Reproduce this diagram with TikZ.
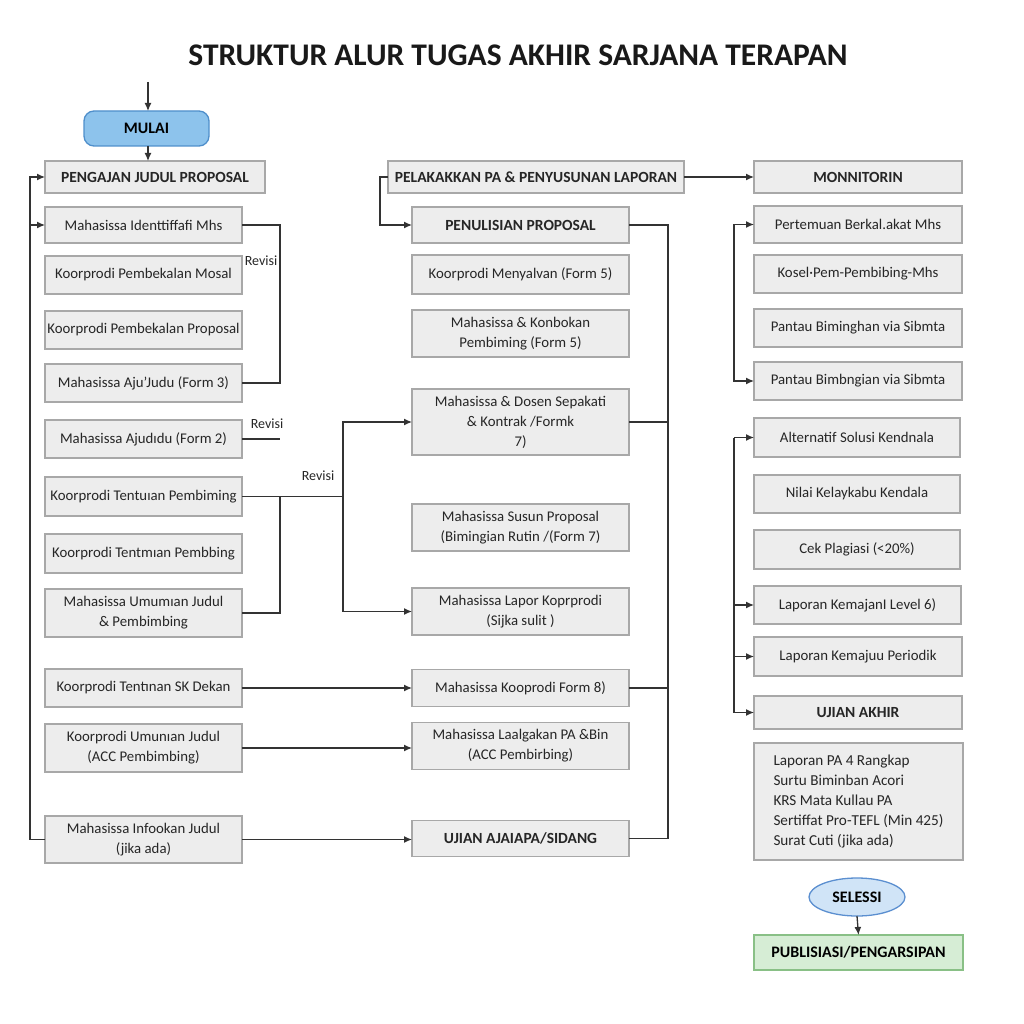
\documentclass[tikz,border=0pt]{standalone}
\usepackage{fontspec}
\setmainfont{Carlito}
\usetikzlibrary{arrows.meta,calc,shapes.geometric}
\definecolor{boxfill}{HTML}{EDEDED}
\definecolor{boxline}{HTML}{A8A8A8}
\definecolor{wire}{HTML}{333333}
\definecolor{startfill}{HTML}{8DC3EC}
\definecolor{startline}{HTML}{4F8FCB}
\definecolor{endfill}{HTML}{D0E4F7}
\definecolor{endline}{HTML}{5B8FD0}
\definecolor{pubfill}{HTML}{D6EDD5}
\definecolor{publine}{HTML}{89C086}
\tikzset{
  box/.style={draw=boxline, fill=boxfill, line width=1.2pt, inner xsep=0pt, inner ysep=2pt, outer sep=0pt,
    align=center, font=\fontsize{14.8}{20}\selectfont, text=black!85},
  hbox/.style={box, font=\fontsize{15.5}{20}\selectfont\bfseries},
  wireline/.style={draw=wire, line width=1.3pt},
  arr/.style={wireline, -{Latex[length=8pt,width=7pt]}},
  rev/.style={font=\fontsize{14}{16}\selectfont, text=black!85, inner sep=1pt},
}
\begin{document}
\begin{tikzpicture}[x=1pt,y=-1pt]
\useasboundingbox[fill=white] (0,0) rectangle (1024,1024);
\node[font=\fontsize{31.5}{34}\selectfont\bfseries, text=black!90] (title) at (518,55) {STRUKTUR ALUR TUGAS AKHIR SARJANA TERAPAN};

% start
\coordinate (top) at (148,82);
\node[draw=startline, fill=startfill, line width=1.3pt, rounded corners=10pt, minimum width=125pt, minimum height=35pt, font=\fontsize{16}{18}\selectfont\bfseries, outer sep=0pt] (mulai) at (146.5,128.5) {MULAI};

% left column
\node[hbox, minimum width=220pt, minimum height=32pt] (p1) at (155,177) {PENGAJAN JUDUL PROPOSAL};
\node[box, minimum width=197pt, minimum height=36pt] (l1) at (143.5,225) {Mahasissa Identtiffafi Mhs};
\node[box, minimum width=197pt, minimum height=38pt] (l2) at (143.5,275) {Koorprodi Pembekalan Mosal};
\node[box, minimum width=197pt, minimum height=38pt] (l3) at (143.5,330) {Koorprodi Pembekalan Proposal};
\node[box, minimum width=197pt, minimum height=38pt] (l4) at (143.5,383) {Mahasissa Aju’Judu (Form 3)};
\node[box, minimum width=197pt, minimum height=38pt] (l5) at (143.5,439) {Mahasissa Ajudıdu (Form 2)};
\node[box, minimum width=197pt, minimum height=39pt] (l6) at (143.5,496.5) {Koorprodi Tentuıan Pembiming};
\node[box, minimum width=197pt, minimum height=39pt] (l7) at (143.5,553.5) {Koorprodi Tentmıan Pembbing};
\node[box, minimum width=197pt, minimum height=48pt] (l8) at (143.5,613) {Mahasissa Umumıan Judul\\\& Pembimbing};
\node[box, minimum width=197pt, minimum height=38pt] (l9) at (143.5,688) {Koorprodi Tentınan SK Dekan};
\node[box, minimum width=197pt, minimum height=48pt] (l10) at (143.5,748) {Koorprodi Umunıan Judul\\(ACC Pembimbing)};
\node[box, minimum width=197pt, minimum height=47pt] (l11) at (143.5,839.5) {Mahasissa Infookan Judul\\(jika ada)};

% middle column
\node[hbox, minimum width=296pt, minimum height=32pt] (mh) at (536,177) {PELAKAKKAN PA \& PENYUSUNAN LAPORAN};
\node[hbox, minimum width=217pt, minimum height=36pt] (m1) at (520.5,225) {PENULISIAN PROPOSAL};
\node[box, minimum width=217pt, minimum height=39pt] (m2) at (520.5,274.5) {Koorprodi Menyalvan (Form 5)};
\node[box, minimum width=217pt, minimum height=47pt] (m3) at (520.5,333.5) {Mahasissa \& Konbokan\\Pembiming (Form 5)};
\node[box, minimum width=217pt, minimum height=66pt] (m4) at (520.5,422) {Mahasissa \& Dosen Sepakati\\\& Kontrak /Formk\\7)};
\node[box, minimum width=217pt, minimum height=47pt] (m5) at (520.5,527.5) {Mahasissa Susun Proposal\\(Bimingian Rutin /(Form 7)};
\node[box, minimum width=217pt, minimum height=47pt] (m6) at (520.5,611.5) {Mahasissa Lapor Koprprodi\\(Sijka sulit )};
\node[box, minimum width=217pt, minimum height=37pt] (m7) at (520.5,688) {Mahasissa Kooprodi Form 8)};
\node[box, minimum width=217pt, minimum height=47pt] (m8) at (520.5,746) {Mahasissa Laalgakan PA \&Bin\\(ACC Pembirbing)};
\node[hbox, minimum width=217pt, minimum height=36pt] (m9) at (520.5,838.5) {UJIAN AJAIAPA/SIDANG};

% right column
\node[hbox, minimum width=208pt, minimum height=32pt] (rh) at (858,177) {MONNITORIN};
\node[box, minimum width=208pt, minimum height=37pt] (r1) at (858,224.5) {Pertemuan Berkal.akat Mhs};
\node[box, minimum width=208pt, minimum height=38pt] (r2) at (858,274) {Kosel·Pem-Pembibing-Mhs};
\node[box, minimum width=208pt, minimum height=38pt] (r3) at (858,328) {Pantau Biminghan via Sibmta};
\node[box, minimum width=208pt, minimum height=38pt] (r4) at (858,381) {Pantau Bimbngian via Sibmta};
\node[box, minimum width=206pt, minimum height=39pt] (r5) at (857,437.5) {Alternatif Solusi Kendnala};
\node[box, minimum width=206pt, minimum height=38pt] (r6) at (857,494) {Nilai Kelaykabu Kendala};
\node[box, minimum width=206pt, minimum height=39pt] (r7) at (857,549.5) {Cek Plagiasi (<20\%)};
\node[box, minimum width=207pt, minimum height=38pt] (r8) at (857.5,605) {Laporan KemajanI Level 6)};
\node[box, minimum width=208pt, minimum height=39pt] (r9) at (858,656.5) {Laporan Kemajuu Periodik};
\node[hbox, minimum width=208pt, minimum height=33pt] (r10) at (858,712.5) {UJIAN AKHIR};
\node[box, align=left, font=\fontsize{15.2}{20}\selectfont, minimum width=209pt, minimum height=117pt] (r11) at (858.5,801.5) {Laporan PA 4 Rangkap\\Surtu Biminban Acori\\KRS Mata Kullau PA\\Sertiffat Pro-TEFL (Min 425)\\Surat Cuti (jika ada)};
\node[ellipse, draw=endline, fill=endfill, line width=1.3pt, minimum width=96pt, minimum height=38pt, inner sep=0pt, outer sep=0pt, font=\fontsize{16}{18}\selectfont\bfseries] (sel) at (857,897) {SELESSI};
\node[draw=publine, fill=pubfill, line width=1.3pt, minimum width=209pt, minimum height=35pt, outer sep=0pt, font=\fontsize{16}{18}\selectfont\bfseries] (pub) at (858.5,952.5) {PUBLISIASI/PENGARSIPAN};

% connectors: start
\draw[arr] (top) -- (top |- mulai.north);
\draw[arr] (mulai.south -| top) -- (top |- p1.north);

% left loop
\coordinate (lx) at (30,0);
\draw[arr] (l11.west) -- (l11.west -| lx) |- (p1.west);
\draw[arr] (lx |- l1.west) -- (l1.west);

% revisi brackets
\coordinate (rx) at (280,0);
\draw[wireline] (l1.east) -- (l1.east -| rx) |- (l4.east);
\node[rev] (rv1) at (261,261) {Revisi};
\draw[wireline] (l5.east) -- (l5.east -| rx);
\node[rev] (rv2) at (267,424) {Revisi};
\coordinate (j3) at (343,496.5);
\draw[wireline] (l6.east) -- (j3);
\draw[wireline] (l8.east) -| (l6.east -| rx);
\node[rev] (rv3) at (318,476) {Revisi};
\draw[arr] (j3) |- (m4.west);
\draw[arr] (j3) |- (m6.west);

% left to middle
\draw[arr] (l9.east) -- (l9.east -| m7.west);
\draw[arr] (l10.east) -- (l10.east -| m8.west);
\draw[arr] (l11.east) -- (l11.east -| m9.west);

% middle header
\draw[arr] (mh.east) -- (rh.west);
\draw[arr] (mh.west) -- ++(-8,0) |- (m1.west);

% middle right bracket
\coordinate (mx) at (668,0);
\draw[wireline] (m1.east) -- (m1.east -| mx) -- (mx |- m9.east) -- (m9.east);
\draw[wireline] (m4.east) -- (m4.east -| mx);
\draw[wireline] (m7.east) -- (m7.east -| mx);

% right brackets
\coordinate (bx) at (734,0);
\draw[arr] (bx |- r1.west) -- (r1.west);
\draw[arr] (bx |- r1.west) |- (r4.west);
\draw[arr] (bx |- r5.west) -- (r5.west);
\draw[arr] (bx |- r5.west) |- (r10.west);
\draw[arr] (bx |- r8.west) -- (r8.west);
\draw[arr] (bx |- r9.west) -- (r9.west);

% end
\draw[arr] (sel.south) -- (pub.north);
\end{tikzpicture}
\end{document}
